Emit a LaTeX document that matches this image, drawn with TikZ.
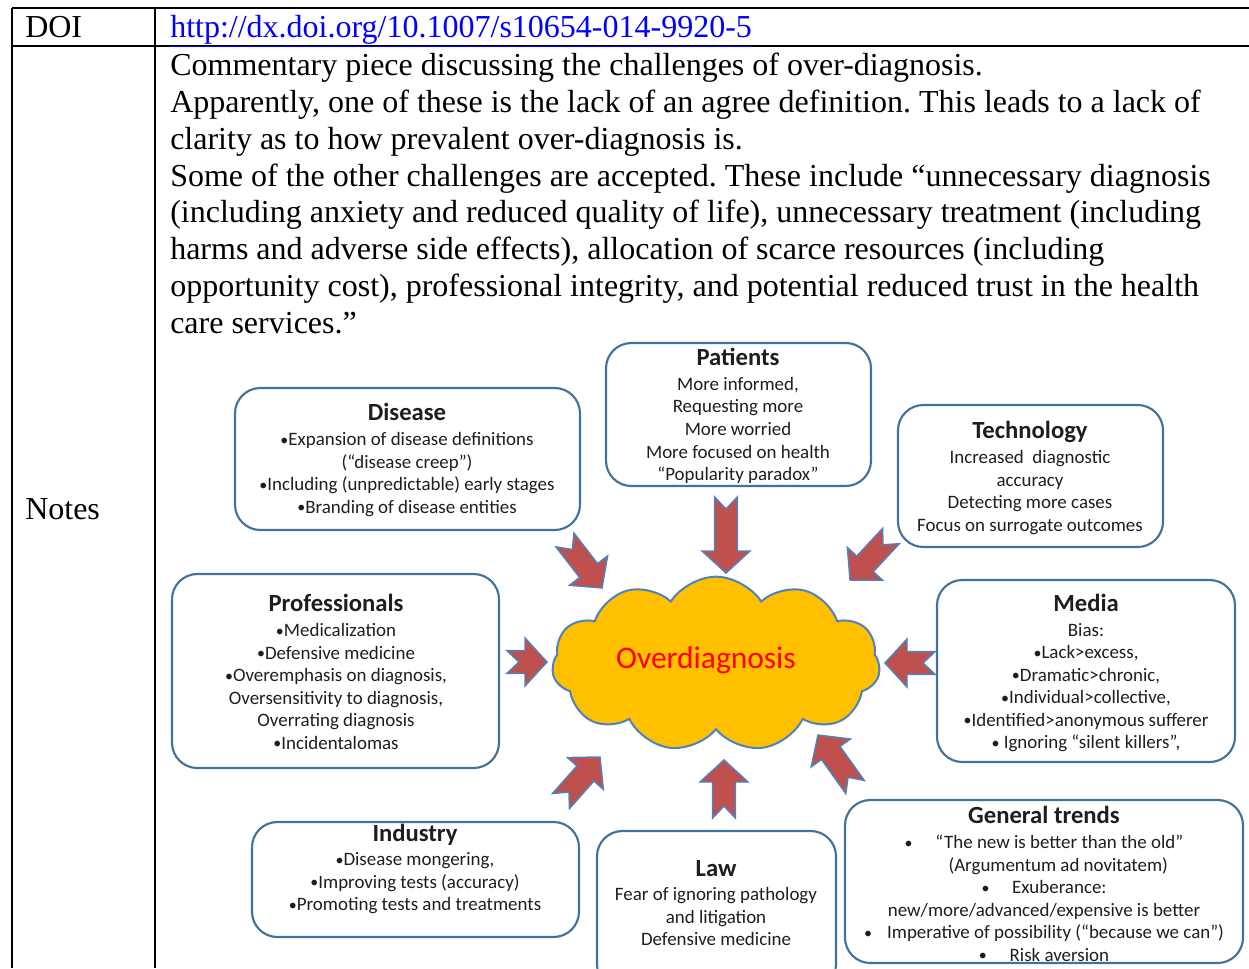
\documentclass[tikz,border=0pt]{standalone}
\usepackage{fontspec}
\setmainfont{Liberation Serif}
\newfontfamily\calfont{Carlito}
\usetikzlibrary{shapes.symbols,calc,fit}
\definecolor{boxblue}{HTML}{41719C}
\definecolor{arrowred}{HTML}{C0504D}
\definecolor{arrowblue}{HTML}{4F81BD}
\definecolor{cloudfill}{HTML}{FFC000}
\definecolor{odred}{HTML}{FF0000}
\definecolor{linkblue}{HTML}{0000FF}
\definecolor{boxtextcol}{HTML}{1E1E1E}
\newcommand{\blockarrow}[2]{%
  \filldraw[blockarrowstyle] (#2)
    -- ($(#2)!16.5pt!(#1)!18pt!90:(#2)$)
    -- ($(#2)!16.5pt!(#1)!8.5pt!90:(#2)$)
    -- ($(#1)!8.5pt!90:(#2)$)
    -- ($(#1)!9pt!(#2)$)
    -- ($(#1)!8.5pt!-90:(#2)$)
    -- ($(#2)!16.5pt!(#1)!8.5pt!-90:(#2)$)
    -- ($(#2)!16.5pt!(#1)!18pt!-90:(#2)$)
    -- cycle;}
\newcommand{\bul}{{\fontsize{12}{12}\selectfont\raisebox{0.05ex}{•}}}
\begin{document}
\frenchspacing
\begin{tikzpicture}[x=0.75pt,y=-0.75pt,
  tableline/.style={line width=1.2pt,black},
  maintext/.style={anchor=base west,inner sep=0,font=\fontsize{24}{27.6}\selectfont},
  box/.style={draw=boxblue,line width=1.6pt,rounded corners=19pt,fill=white,inner sep=0},
  boxtext/.style={align=center,inner sep=0,text=boxtextcol,font=\calfont\fontsize{14.2}{16.9}\selectfont},
  blockarrowstyle/.style={fill=arrowred,draw=arrowblue,line width=1.1pt,line join=miter},
]
\useasboundingbox (0,0) rectangle (1249,968);
\clip (0,0) rectangle (1249,968);
\newcommand{\ttl}[1]{{\fontsize{18.5}{19}\selectfont\bfseries #1}\\[1.6pt]}
% table
\draw[tableline] (12,8) -- (1249,8);
\draw[tableline] (12,46) -- (1249,46);
\draw[tableline] (12,8) -- (12,968);
\draw[tableline] (155,8) -- (155,968);
\node[maintext] (doi) at (25,37) {DOI};
\node[maintext,text=linkblue] (url) at (170,37) {\underline{http://dx.doi.org/10.1007/s10654-014-9920-5}};
\node[maintext] (notes) at (25,519) {Notes};
\node[maintext] (l1) at (170,75) {Commentary piece discussing the challenges of over-diagnosis.};
\node[maintext] (l2) at (170,112) {Apparently, one of these is the lack of an agree definition. This leads to a lack of};
\node[maintext] (l3) at (170,149) {clarity as to how prevalent over-diagnosis is.};
\node[maintext] (l4) at (170,186) {Some of the other challenges are accepted. These include “unnecessary diagnosis};
\node[maintext] (l5) at (170,222) {(including anxiety and reduced quality of life), unnecessary treatment (including};
\node[maintext] (l6) at (170,259) {harms and adverse side effects), allocation of scarce resources (including};
\node[maintext] (l7) at (170,296) {opportunity cost), professional integrity, and potential reduced trust in the health};
\node[maintext] (l8) at (170,333) {care services.”};
% boxes
\node[box,fit={(235,388) (580,530)}] (disease) {};
\node[box,fit={(606,343) (871,486)}] (patients) {};
\node[box,fit={(898,405) (1163,547)}] (technology) {};
\node[box,fit={(172,574) (499,768)}] (professionals) {};
\node[box,fit={(937,580) (1235,762)}] (media) {};
\node[box,fit={(252,822) (579,937)}] (industry) {};
\node[box,fit={(597,831) (836,990)}] (law) {};
\node[box,fit={(845,800) (1243,963)}] (trends) {};
\node[boxtext] (disease-t) at (407,460) {\ttl{Disease}\bul Expansion of disease definitions\\(“disease creep”)\\\bul Including (unpredictable) early stages\\\bul Branding of disease entities};
\node[boxtext] (patients-t) at (738,416) {\ttl{Patients}More informed,\\Requesting more\\More worried\\More focused on health\\“Popularity paradox”};
\node[boxtext] (technology-t) at (1030,478) {\ttl{Technology}Increased\ \ diagnostic\\accuracy\\Detecting more cases\\Focus on surrogate outcomes};
\node[boxtext] (professionals-t) at (336,672) {\ttl{Professionals}\bul Medicalization\\\bul Defensive medicine\\\bul Overemphasis on diagnosis,\\Oversensitivity to diagnosis,\\Overrating diagnosis\\\bul Incidentalomas};
\node[boxtext] (media-t) at (1086,673) {\ttl{Media}Bias:\\\bul Lack>excess,\\\bul Dramatic>chronic,\\\bul Individual>collective,\\\bul Identified>anonymous sufferer\\\bul\ Ignoring “silent killers”,};
\node[boxtext] (industry-t) at (415,869) {\ttl{Industry}\bul Disease mongering,\\\bul Improving tests (accuracy)\\\bul Promoting tests and treatments};
\node[boxtext] (law-t) at (716,903) {\ttl{Law}Fear of ignoring pathology\\and litigation\\Defensive medicine};
\node[boxtext] (trends-t) at (1044,884) {\ttl{General trends}\bul\hspace{1.2em}“The new is better than the old”\\\hspace{1.5em}(Argumentum ad novitatem)\\\bul\hspace{1.2em}Exuberance:\\new/more/advanced/expensive is better\\\bul\hspace{0.8em}Imperative of possibility (“because we can”)\\\bul\hspace{1.2em}Risk aversion};
% cloud
\node[cloud,cloud puffs=11,cloud puff arc=115,draw=arrowblue,line width=1.5pt,fill=cloudfill,
  minimum width=246pt,minimum height=131pt,inner sep=0] (cloud) at (716,664) {};
\node[inner sep=0,text=odred,font=\calfont\fontsize{23.6}{28}\selectfont] (od) at (706,660) {Overdiagnosis};
% arrows
\coordinate (a1t) at (565,540); \coordinate (a1h) at (602,588);
\coordinate (a2t) at (726,497); \coordinate (a2h) at (726,573);
\coordinate (a3t) at (891,536); \coordinate (a3h) at (850,580);
\coordinate (a4t) at (507,662); \coordinate (a4h) at (547,662);
\coordinate (a5t) at (935,663); \coordinate (a5h) at (885,663);
\coordinate (a6t) at (561,801); \coordinate (a6h) at (600,757);
\coordinate (a7t) at (724,818); \coordinate (a7h) at (724,760);
\coordinate (a8t) at (855,787); \coordinate (a8h) at (818,735);
\blockarrow{a1t}{a1h}
\blockarrow{a2t}{a2h}
\blockarrow{a3t}{a3h}
\blockarrow{a4t}{a4h}
\blockarrow{a5t}{a5h}
\blockarrow{a6t}{a6h}
\blockarrow{a7t}{a7h}
\blockarrow{a8t}{a8h}
\end{tikzpicture}
\end{document}
